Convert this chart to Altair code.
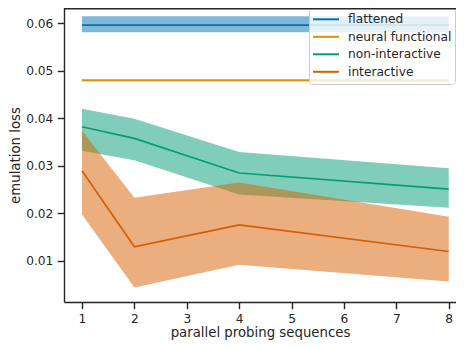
import altair as alt
import pandas as pd

# ---- data ----
x_vals = [1, 2, 4, 8]
series_names = ["flattened", "neural functional", "non-interactive", "interactive"]
series_colors = ["#0173b2", "#de8f05", "#029e73", "#d55e00"]

flattened_mean = [0.0596, 0.0596, 0.0596, 0.0596]
flattened_lo = [0.0581, 0.0581, 0.0581, 0.0581]
flattened_hi = [0.0615, 0.0615, 0.0615, 0.0615]

neural_mean = [0.0480, 0.0480, 0.0480, 0.0480]
neural_lo = [0.0478, 0.0478, 0.0478, 0.0478]
neural_hi = [0.0483, 0.0483, 0.0483, 0.0483]

nonint_mean = [0.03825, 0.0358, 0.0285, 0.0251]
nonint_lo = [0.0332, 0.0312, 0.0240, 0.0212]
nonint_hi = [0.0420, 0.0399, 0.0329, 0.0295]

inter_mean = [0.0290, 0.0130, 0.0176, 0.0120]
inter_lo = [0.0198, 0.0044, 0.0092, 0.0057]
inter_hi = [0.0374, 0.0233, 0.0265, 0.0193]

y_ticks = [0.01, 0.02, 0.03, 0.04, 0.05, 0.06]
x_ticks = [1, 2, 3, 4, 5, 6, 7, 8]

# ---- build table ----
rows = []
for name, m, lo, hi in [
    ("flattened", flattened_mean, flattened_lo, flattened_hi),
    ("neural functional", neural_mean, neural_lo, neural_hi),
    ("non-interactive", nonint_mean, nonint_lo, nonint_hi),
    ("interactive", inter_mean, inter_lo, inter_hi),
]:
    for x, a, b, c in zip(x_vals, m, lo, hi):
        rows.append({"x": x, "series": name, "mean": a, "lo": b, "hi": c})
df = pd.DataFrame(rows)

FONT = "DejaVu Sans"
TXT = "#262626"

xscale = alt.Scale(domain=[0.6565, 8.139], nice=False, zero=False)
yscale = alt.Scale(domain=[0.00137, 0.06322], nice=False, zero=False)

xaxis = alt.Axis(values=x_ticks, format="d", title="parallel probing sequences",
                 labelAngle=0, titlePadding=1, labelPadding=4)
yaxis = alt.Axis(values=y_ticks, format=".2f", title="emulation loss",
                 titlePadding=3.5, labelPadding=4.5)

base = alt.Chart(df)

layers = []
for name in series_names:
    layers.append(
        base.transform_filter(alt.datum.series == name)
        .mark_area(opacity=0.5)
        .encode(
            x=alt.X("x:Q", scale=xscale, axis=xaxis),
            y=alt.Y("lo:Q", scale=yscale, axis=yaxis),
            y2="hi:Q",
            fill=alt.Fill("series:N", scale=alt.Scale(domain=series_names, range=series_colors),
                          legend=None),
        )
    )

legend = alt.Legend(
    orient="none", legendX=254.5, legendY=3.8, title=None,
    symbolType="M-2,0H2", symbolSize=169, symbolStrokeWidth=2,
    labelFont=FONT, labelFontSize=12.2, labelColor=TXT, labelOffset=14.5,
    padding=0, rowPadding=3.5,
)
lines = base.mark_line(strokeWidth=1.67).encode(
    x=alt.X("x:Q", scale=xscale, axis=xaxis),
    y=alt.Y("mean:Q", scale=yscale, axis=yaxis),
    color=alt.Color("series:N", scale=alt.Scale(domain=series_names, range=series_colors),
                    legend=legend),
)
layers.append(lines)

# legend frame (semi-transparent box behind the legend entries)
legend_box = alt.Chart(pd.DataFrame({"k": [0]})).mark_rect(
    fill="white", fillOpacity=0.8, stroke="#cccccc", strokeWidth=1, cornerRadius=3
).encode(x=alt.value(245.5), x2=alt.value(391.5), y=alt.value(0.5), y2=alt.value(76.5))
layers.append(legend_box)

top_spine = alt.Chart(pd.DataFrame({"k": [0]})).mark_rule(color=TXT, strokeWidth=1.4).encode(
    x=alt.value(0), x2=alt.value(392), y=alt.value(0.7)
)
layers.append(top_spine)

chart = alt.layer(*layers).resolve_scale(color="independent", fill="independent").properties(
    width=392, height=294,
    autosize=alt.AutoSizeParams(type="none"),
    padding={"left": 56, "top": 0, "right": 0, "bottom": 39},
).configure_view(stroke=None).configure_axis(
    grid=False, domainColor=TXT, domainWidth=1.4, tickColor=TXT, tickWidth=1.4, tickSize=6.7,
    labelFont=FONT, labelFontSize=12.2, labelColor=TXT,
    titleFont=FONT, titleFontSize=13.3, titleFontWeight="normal", titleColor=TXT,
)

chart.save("out.html", embed_options={"renderer": "svg", "actions": False})
